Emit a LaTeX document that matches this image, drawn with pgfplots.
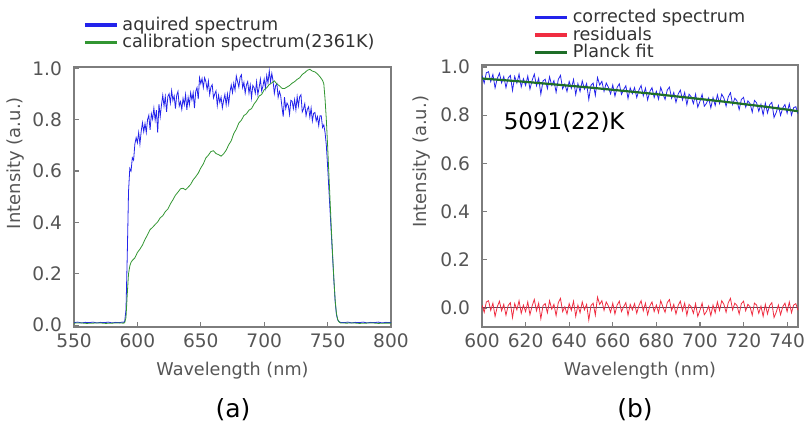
\documentclass[border=0pt]{standalone}
\usepackage{fontspec}
\setmainfont{DejaVu Sans}
\usepackage{pgfplots}
\pgfplotsset{compat=1.18}
\definecolor{tickgray}{RGB}{85,85,85}
\definecolor{framegray}{RGB}{125,125,125}
\definecolor{legtext}{RGB}{50,50,50}
\definecolor{specblue}{RGB}{35,35,235}
\definecolor{calgreen}{RGB}{50,150,50}
\definecolor{resred}{RGB}{240,45,65}
\definecolor{fitgreen}{RGB}{30,110,40}
\definecolor{zeroline}{RGB}{90,70,90}

\pgfplotsset{
  myaxis/.style={
    scale only axis,
    axis line style={framegray, line width=0.8pt},
    tick style={framegray, line width=0.6pt},
    major tick length=2.5pt,
    tick align=inside,
    xtick pos=bottom, ytick pos=left,
    ticklabel style={font=\fontsize{9.3}{11}\selectfont, text=tickgray},
    /pgf/number format/assume math mode=true,
    yticklabel style={/pgf/number format/fixed, /pgf/number format/fixed zerofill, /pgf/number format/precision=1, xshift=-2.5pt},
    xticklabel style={/pgf/number format/fixed, /pgf/number format/1000 sep={}},
    xlabel style={font=\fontsize{8.8}{10}\selectfont, text=tickgray},
    ylabel style={font=\fontsize{9}{10}\selectfont, text=tickgray},
    legend style={draw=none, fill=none, font=\fontsize{8.8}{9}\selectfont, text=legtext, row sep=-3.5pt, inner sep=0pt},
    legend cell align=left,
    legend image code/.code={\draw[#1, line width=1.6pt] (0pt,0pt) -- (16pt,0pt);},
  }
}

\begin{document}
\begin{tikzpicture}
\useasboundingbox (0pt,0pt) rectangle (403.5pt,211.5pt);

% ---------------- (a) ----------------
\begin{axis}[myaxis,
  at={(37pt,48pt)}, anchor=south west,
  width=158.5pt, height=130pt,
  xmin=550, xmax=800, ymin=-0.007, ymax=1.005,
  xtick={550,600,650,700,750,800},
  ytick={0,0.2,0.4,0.6,0.8,1.0},
  xlabel={Wavelength (nm)},
  ylabel={Intensity (a.u.)},
  ylabel style={at={(axis description cs:-0.183,0.63)}, anchor=center},
  legend style={at={(axis description cs:0.028,1)}, anchor=south west, yshift=6pt},
]
\addplot[specblue, line width=0.4pt] coordinates {
(550,0.010)(553,0.012)(556,0.009)(559,0.011)(562,0.010)(565,0.012)(568,0.009)(571,0.011)(574,0.010)(577,0.012)(580,0.009)(583,0.011)(586,0.010)(588,0.012)(589,0.011)(590,0.015)(591,0.06)(592,0.27)(593,0.52)(594,0.61)(595,0.60)
(596,0.652)(597,0.642)(598,0.705)(599,0.730)(600,0.710)(601,0.750)(602,0.705)(603,0.755)(604,0.788)(605,0.753)
(606,0.785)(607,0.750)(608,0.800)(609,0.817)(610,0.760)(611,0.823)(612,0.802)(613,0.845)(614,0.798)(615,0.837)
(616,0.750)(617,0.860)(618,0.812)(619,0.858)(620,0.895)(621,0.853)(622,0.890)(623,0.830)(624,0.890)(625,0.901)
(626,0.865)(627,0.913)(628,0.875)(629,0.893)(630,0.843)(631,0.895)(632,0.910)(633,0.853)(634,0.870)(635,0.840)
(636,0.883)(637,0.858)(638,0.898)(639,0.838)(640,0.887)(641,0.858)(642,0.905)(643,0.877)(644,0.905)(645,0.845)
(646,0.910)(647,0.925)(648,0.880)(649,0.963)(650,0.940)(651,0.960)(652,0.925)(653,0.963)(654,0.948)(655,0.917)
(656,0.950)(657,0.898)(658,0.927)(659,0.936)(660,0.885)(661,0.900)(662,0.912)(663,0.855)(664,0.895)(665,0.867)
(666,0.888)(667,0.846)(668,0.875)(669,0.898)(670,0.858)(671,0.900)(672,0.862)(673,0.908)(674,0.935)(675,0.905)
(676,0.942)(677,0.915)(678,0.970)(679,0.948)(680,0.927)(681,0.965)(682,0.975)(683,0.925)(684,0.945)(685,0.903)
(686,0.935)(687,0.948)(688,0.903)(689,0.935)(690,0.885)(691,0.933)(692,0.925)(693,0.903)(694,0.948)(695,0.898)
(696,0.925)(697,0.958)(698,0.912)(699,0.930)(700,0.958)(701,0.923)(702,0.972)(703,0.943)(704,0.990)(705,0.948)
(706,0.980)(707,0.950)(708,0.902)(709,0.932)(710,0.940)(711,0.887)(712,0.910)(713,0.893)(714,0.850)(715,0.812)
(716,0.888)(717,0.843)(718,0.865)(719,0.855)(720,0.820)(721,0.875)(722,0.872)(723,0.843)(724,0.878)(725,0.838)
(726,0.890)(727,0.853)(728,0.890)(729,0.897)(730,0.830)(731,0.842)(732,0.862)(733,0.815)(734,0.840)(735,0.850)
(736,0.810)(737,0.845)(738,0.795)(739,0.825)(740,0.828)(741,0.795)(742,0.812)(743,0.777)(744,0.815)(745,0.815)
(746,0.770)(747,0.780)(748,0.75)(749,0.70)(750,0.62)(751,0.53)(752,0.44)(753,0.35)(754,0.26)(755,0.17)(756,0.09)(757,0.04)(758,0.02)(759,0.014)(760,0.011)
(763,0.010)(766,0.012)(769,0.009)(772,0.011)(775,0.010)(778,0.012)(781,0.009)(784,0.011)(787,0.010)(790,0.012)(793,0.009)(796,0.011)(800,0.010)
};
\addlegendentry{aquired spectrum}
\addplot[calgreen, line width=0.4pt] coordinates {
(550,0.008)(555,0.009)(560,0.007)(565,0.008)(570,0.009)(575,0.007)(580,0.008)(585,0.009)(589,0.008)(590,0.010)(591,0.03)(592,0.12)(593,0.20)(594,0.23)(595,0.245)(596,0.252)(598,0.262)(600,0.283)(602,0.296)(604,0.312)(606,0.334)(608,0.352)(610,0.372)(612,0.381)(614,0.392)(616,0.402)(618,0.418)(620,0.426)(622,0.442)(624,0.452)(626,0.472)(628,0.488)(630,0.506)(632,0.518)(634,0.531)(636,0.533)(638,0.527)(640,0.537)(642,0.548)(644,0.566)(646,0.578)(648,0.592)(650,0.612)(652,0.628)(654,0.651)(656,0.662)(658,0.676)(660,0.679)(662,0.668)(664,0.664)(666,0.658)(668,0.667)(670,0.681)(672,0.702)(674,0.718)(676,0.746)(678,0.763)(680,0.787)(682,0.798)(684,0.816)(686,0.823)(688,0.837)(690,0.843)(692,0.861)(694,0.874)(696,0.892)(698,0.898)(700,0.917)(702,0.924)(704,0.937)(706,0.943)(708,0.951)(710,0.939)(712,0.932)(714,0.922)(716,0.921)(718,0.927)(720,0.933)(722,0.942)(724,0.948)(726,0.957)(728,0.963)(730,0.976)(732,0.983)(734,0.992)(736,0.996)(738,0.989)(740,0.986)(742,0.978)(744,0.967)(746,0.953)(747,0.94)(748,0.88)(749,0.80)(750,0.70)(751,0.59)(752,0.48)(753,0.37)(754,0.27)(755,0.175)(756,0.095)(757,0.045)(758,0.022)(759,0.013)(760,0.009)(765,0.008)(770,0.009)(775,0.007)(780,0.008)(785,0.009)(790,0.007)(795,0.008)(800,0.008)
};
\addlegendentry{calibration spectrum(2361K)}
\end{axis}

% ---------------- (b) ----------------
\begin{axis}[myaxis,
  at={(241pt,48pt)}, anchor=south west,
  width=158pt, height=131pt,
  xmin=600, xmax=745, ymin=-0.079, ymax=1.008,
  xtick={600,620,640,660,680,700,720,740},
  ytick={0,0.2,0.4,0.6,0.8,1.0},
  xlabel={Wavelength (nm)},
  ylabel={Intensity (a.u.)},
  ylabel style={at={(axis description cs:-0.19,0.63)}, anchor=center},
  legend style={at={(axis description cs:0.162,1)}, anchor=south west, yshift=0pt},
]
\addplot[specblue, line width=0.4pt] coordinates {
(600,0.964)(601,0.933)(602,0.976)(603,0.980)(604,0.939)(605,0.969)(606,0.913)(607,0.952)(608,0.974)(609,0.934)
(610,0.960)(611,0.914)(612,0.954)(613,0.965)(614,0.902)(615,0.960)(616,0.933)(617,0.970)(618,0.917)(619,0.951)
(620,0.923)(621,0.962)(622,0.908)(623,0.944)(624,0.970)(625,0.922)(626,0.953)(627,0.887)(628,0.942)(629,0.949)
(630,0.910)(631,0.959)(632,0.923)(633,0.943)(634,0.895)(635,0.948)(636,0.965)(637,0.909)(638,0.929)(639,0.898)
(640,0.940)(641,0.911)(642,0.948)(643,0.885)(644,0.931)(645,0.898)(646,0.942)(647,0.908)(648,0.931)(649,0.865)
(650,0.924)(651,0.933)(652,0.882)(653,0.956)(654,0.925)(655,0.940)(656,0.899)(657,0.933)(658,0.915)(659,0.888)
(660,0.925)(661,0.879)(662,0.915)(663,0.930)(664,0.886)(665,0.906)(666,0.922)(667,0.869)(668,0.913)(669,0.889)
(670,0.914)(671,0.873)(672,0.904)(673,0.923)(674,0.880)(675,0.912)(676,0.863)(677,0.898)(678,0.914)(679,0.873)
(680,0.899)(681,0.866)(682,0.915)(683,0.889)(684,0.865)(685,0.904)(686,0.916)(687,0.870)(688,0.894)(689,0.853)
(690,0.887)(691,0.904)(692,0.863)(693,0.894)(694,0.843)(695,0.887)(696,0.876)(697,0.848)(698,0.887)(699,0.833)
(700,0.857)(701,0.886)(702,0.837)(703,0.849)(704,0.871)(705,0.830)(706,0.873)(707,0.840)(708,0.884)(709,0.848)
(710,0.887)(711,0.871)(712,0.837)(713,0.876)(714,0.893)(715,0.844)(716,0.870)(717,0.859)(718,0.823)(719,0.865)
(720,0.874)(721,0.833)(722,0.859)(723,0.848)(724,0.812)(725,0.861)(726,0.851)(727,0.816)(728,0.845)(729,0.801)
(730,0.850)(731,0.809)(732,0.843)(733,0.853)(734,0.790)(735,0.811)(736,0.840)(737,0.799)(738,0.830)(739,0.844)
(740,0.808)(741,0.847)(742,0.800)(743,0.831)(744,0.835)(745,0.806)
};
\addlegendentry{corrected spectrum}
\addplot[zeroline, line width=0.5pt, forget plot] coordinates {(600,0)(745,0)};
\addplot[resred, line width=0.4pt] coordinates {
(600,0.012)(601,-0.018)(602,0.025)(603,0.030)(604,-0.010)(605,0.020)(606,-0.035)(607,0.005)(608,0.028)(609,-0.012)
(610,0.015)(611,-0.030)(612,0.010)(613,0.022)(614,-0.040)(615,0.018)(616,-0.008)(617,0.030)(618,-0.022)(619,0.012)
(620,-0.015)(621,0.025)(622,-0.028)(623,0.008)(624,0.035)(625,-0.012)(626,0.020)(627,-0.045)(628,0.010)(629,0.018)
(630,-0.020)(631,0.030)(632,-0.005)(633,0.015)(634,-0.032)(635,0.022)(636,0.040)(637,-0.015)(638,0.005)(639,-0.025)
(640,0.018)(641,-0.010)(642,0.028)(643,-0.035)(644,0.012)(645,-0.020)(646,0.025)(647,-0.008)(648,0.015)(649,-0.050)
(650,0.010)(651,0.020)(652,-0.030)(653,0.045)(654,0.015)(655,0.030)(656,-0.010)(657,0.025)(658,0.008)(659,-0.018)
(660,0.020)(661,-0.025)(662,0.012)(663,0.028)(664,-0.015)(665,0.005)(666,0.022)(667,-0.030)(668,0.015)(669,-0.008)
(670,0.018)(671,-0.022)(672,0.010)(673,0.030)(674,-0.012)(675,0.020)(676,-0.028)(677,0.008)(678,0.025)(679,-0.015)
(680,0.012)(681,-0.020)(682,0.030)(683,0.005)(684,-0.018)(685,0.022)(686,0.035)(687,-0.010)(688,0.015)(689,-0.025)
(690,0.010)(691,0.028)(692,-0.012)(693,0.020)(694,-0.030)(695,0.015)(696,0.005)(697,-0.022)(698,0.018)(699,-0.035)
(700,-0.010)(701,0.020)(702,-0.028)(703,-0.015)(704,0.008)(705,-0.032)(706,0.012)(707,-0.020)(708,0.025)(709,-0.010)
(710,0.030)(711,0.015)(712,-0.018)(713,0.022)(714,0.040)(715,-0.008)(716,0.020)(717,0.010)(718,-0.025)(719,0.018)
(720,0.028)(721,-0.012)(722,0.015)(723,0.005)(724,-0.030)(725,0.020)(726,0.012)(727,-0.022)(728,0.008)(729,-0.035)
(730,0.015)(731,-0.025)(732,0.010)(733,0.022)(734,-0.040)(735,-0.018)(736,0.012)(737,-0.028)(738,0.005)(739,0.020)
(740,-0.015)(741,0.025)(742,-0.020)(743,0.012)(744,0.018)(745,-0.010)
};
\addlegendentry{residuals}
\addplot[fitgreen, line width=1.1pt] coordinates {
(600,0.952)(610,0.945)(620,0.938)(630,0.930)(640,0.922)(650,0.914)(660,0.905)(670,0.896)(680,0.887)(690,0.877)(700,0.867)(710,0.857)(720,0.846)(730,0.835)(740,0.823)(745,0.816)
};
\addlegendentry{Planck fit}
\node[anchor=west, inner sep=0pt, font=\fontsize{11.5}{12}\selectfont, text=black] at (axis cs:609.8,0.772) {5091(22)K};
\end{axis}

\node[font=\fontsize{12.5}{14}\selectfont, text=black] at (116.5pt,6.5pt) {(a)};
\node[font=\fontsize{12.5}{14}\selectfont, text=black] at (317.5pt,6.5pt) {(b)};
\end{tikzpicture}
\end{document}
